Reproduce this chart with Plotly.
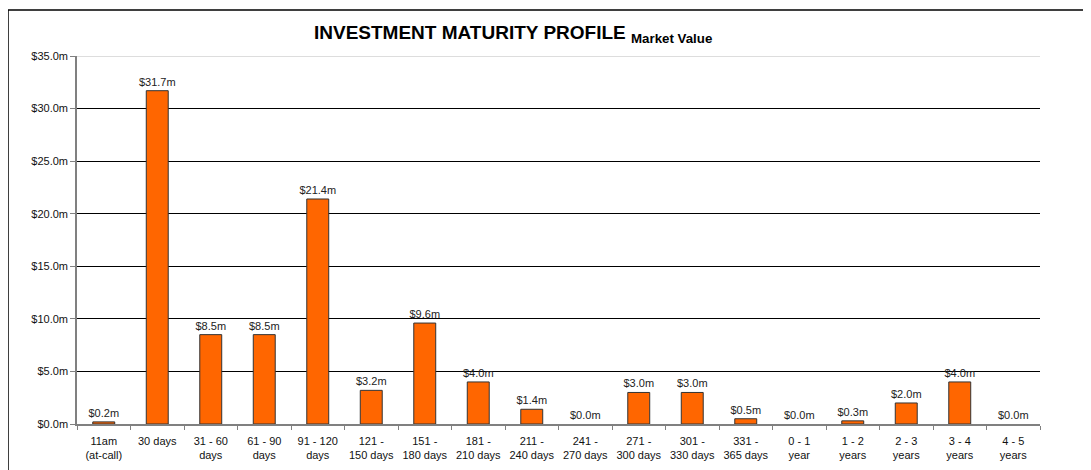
import plotly.graph_objects as go

categories = ["11am<br>(at-call)", "30 days", "31 - 60<br>days", "61 - 90<br>days", "91 - 120<br>days",
              "121 -<br>150 days", "151 -<br>180 days", "181 -<br>210 days", "211 -<br>240 days",
              "241 -<br>270 days", "271 -<br>300 days", "301 -<br>330 days", "331 -<br>365 days",
              "0 - 1<br>year", "1 - 2<br>years", "2 - 3<br>years", "3 - 4<br>years", "4 - 5<br>years"]
market_value = [0.2, 31.7, 8.5, 8.5, 21.4, 3.2, 9.6, 4.0, 1.4, 0.0, 3.0, 3.0, 0.5, 0.0, 0.3, 2.0, 4.0, 0.0]
y_ticks = [0, 5, 10, 15, 20, 25, 30, 35]

FONT = "Liberation Sans, Arial, sans-serif"
OFF = 8  # page body margin
W, H = 1091 - OFF, 470 - OFF
# plot area in page pixels: x 77..1040, y 56..424
L = 77 - OFF
T = 56 - OFF
pw, ph = 963, 368
R = W - L - pw
B = H - T - ph


def px2x(px):
    return (px - OFF - L) / pw


def px2y(py):
    return (T + ph - (py - OFF)) / ph


fig = go.Figure()
fig.add_trace(go.Bar(
    x=categories, y=market_value,
    marker=dict(color="#FF6600",
                line=dict(color="#333333", width=[1 if v > 0 else 0 for v in market_value])),
    texttemplate="$%{y:.1f}m", textposition="outside",
    textfont=dict(family=FONT, size=11, color="#222222"),
    constraintext="none",
    cliponaxis=False,
))

fig.update_layout(
    width=W, height=H,
    margin=dict(l=L, r=R, t=T, b=B, pad=0, autoexpand=False),
    paper_bgcolor="white", plot_bgcolor="white",
    bargap=0.59,
    showlegend=False,
    font=dict(family=FONT, size=11, color="#111111"),
    xaxis=dict(
        type="category", tickson="boundaries", ticks="outside", ticklen=4,
        tickcolor="#808080", showline=True, linecolor="#808080", linewidth=1.5,
        showgrid=False, tickfont=dict(family=FONT, size=11, color="#111111"),
        tickangle=0, automargin=False, ticklabelstandoff=6,
    ),
    yaxis=dict(
        range=[0, 35], tickvals=y_ticks,
        ticktext=["$%.1fm" % v for v in y_ticks],
        ticks="outside", ticklen=5, tickcolor="#808080",
        showline=True, linecolor="#808080", linewidth=1.5,
        showgrid=True, gridcolor="#000000", gridwidth=1,
        zeroline=False, tickfont=dict(family=FONT, size=11, color="#111111"),
        automargin=False,
    ),
)

# top gridline lighter
fig.add_shape(type="line", xref="paper", yref="y", x0=0, x1=1, y0=35, y1=35,
              line=dict(color="#BBBBBB", width=1), layer="above")

# outer chart frame (cut off at right and bottom)
fig.add_shape(type="rect", xref="paper", yref="paper",
              x0=px2x(8), x1=px2x(1110), y0=px2y(490), y1=px2y(10),
              line=dict(color="#000000", width=1.5), fillcolor="rgba(0,0,0,0)")

fig.add_annotation(
    xref="paper", yref="paper", x=px2x(312), y=px2y(34), xanchor="left", yanchor="middle",
    text="<b>INVESTMENT MATURITY PROFILE</b> <sub><b>Market Value</b></sub>",
    showarrow=False, font=dict(family=FONT, size=19, color="#000000"),
)

fig.write_html("out.html")
